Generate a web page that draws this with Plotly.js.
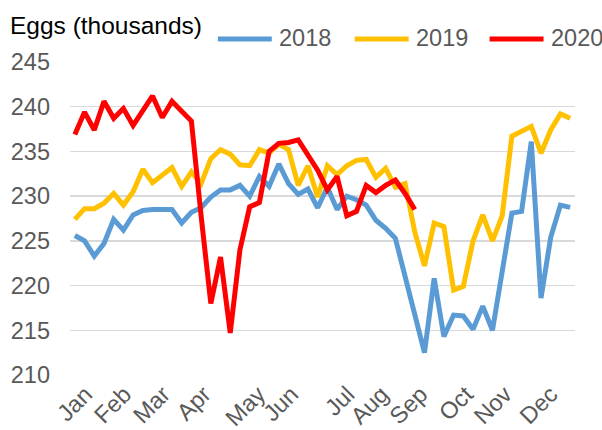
<!DOCTYPE html>
<html>
<head>
<meta charset="utf-8">
<script src="https://cdn.plot.ly/plotly-3.0.1.min.js"></script>
<style>html,body{margin:0;padding:0;background:#fff}#chart{width:602px;height:430px}</style>
</head>
<body>
<div id="chart"></div>
<script>
const weeks = [1,2,3,4,5,6,7,8,9,10,11,12,13,14,15,16,17,18,19,20,21,22,23,24,25,26,
  27,28,29,30,31,32,33,34,35,36,37,38,39,40,41,42,43,44,45,46,47,48,49,50,51,52];

const eggs2018 = [225.6,225.0,223.3,224.7,227.4,226.2,227.9,228.4,228.5,228.5,228.5,227.0,228.2,
  228.7,229.9,230.7,230.7,231.2,230.0,232.2,231.1,233.6,231.4,230.2,230.8,228.7,231.0,228.5,
  230.0,229.6,229.0,227.3,226.4,225.3,221.2,216.9,212.5,220.8,214.3,216.7,216.6,215.1,217.7,
  215.0,221.5,228.1,228.3,236.1,218.6,225.4,229.0,228.75];

const eggs2019 = [227.4,228.6,228.6,229.2,230.3,229.0,230.5,233.0,231.5,232.3,233.2,231.1,232.7,
  231.4,234.2,235.2,234.7,233.5,233.4,235.2,234.8,235.8,235.2,231.2,233.4,229.9,233.4,232.4,
  233.4,234.0,234.1,232.1,233.1,231.0,231.4,226.0,222.2,227.0,226.6,219.5,219.9,225.0,227.9,
  225.0,227.8,236.7,237.3,237.8,234.8,237.4,239.2,238.7];

const eggs2020 = [236.9,239.4,237.4,240.6,238.7,239.8,237.9,239.5,241.2,238.8,240.6,239.5,238.4,
  227.8,218.0,223.2,214.7,224.0,228.8,229.3,235.0,235.9,236.0,236.3,234.6,232.9,230.7,232.2,
  227.8,228.3,231.2,230.4,231.2,231.8,230.3,228.5];

const monthLabels = ['Jan','Feb','Mar','Apr','May','Jun','Jul','Aug','Sep','Oct','Nov','Dec'];
const monthWeeks = [2.1,6.1,10.1,14.3,19.9,23.3,29.1,32.6,36.6,41.3,45.3,50.0];

const seriesNames = ['2018','2019','2020'];
const seriesColors = ['#5B9BD5','#FFC000','#FF0000'];
const seriesData = [eggs2018, eggs2019, eggs2020];

// plot-area geometry (pixels) used only to place the hand-drawn legend
const M = {l: 70, r: 26.5, t: 62, b: 55};
const PW = 602 - M.l - M.r, PH = 430 - M.t - M.b;
const px = p => (p - M.l) / PW;
const py = p => (430 - M.b - p) / PH;
const legendLineX = [218, 355, 490];
const legendLineLen = 54;
const legendY = 38;

const traces = seriesData.map((vals, k) => ({
  type: 'scatter', mode: 'lines', name: seriesNames[k],
  x: weeks.slice(0, vals.length), y: vals,
  line: {color: seriesColors[k], width: 5, shape: 'linear'},
  hoverinfo: 'skip', showlegend: false
}));

const shapes = seriesNames.map((n, k) => ({
  type: 'line', xref: 'paper', yref: 'paper',
  x0: px(legendLineX[k]), x1: px(legendLineX[k] + legendLineLen),
  y0: py(legendY + 1), y1: py(legendY + 1),
  line: {color: seriesColors[k], width: 5}
}));

const annotations = seriesNames.map((n, k) => ({
  xref: 'paper', yref: 'paper', x: px(legendLineX[k] + legendLineLen + 5), y: py(legendY),
  xanchor: 'left', yanchor: 'middle', showarrow: false, text: n,
  font: {size: 23.5, color: '#595959'}
}));

const layout = {
  width: 602, height: 430,
  margin: M,
  paper_bgcolor: '#ffffff', plot_bgcolor: '#ffffff',
  font: {family: 'Liberation Sans, Arial, sans-serif', size: 23.5, color: '#595959'},
  title: {text: 'Eggs (thousands)', font: {size: 24.5, color: '#000000'},
    xref: 'container', yref: 'container', x: 10/602, xanchor: 'left', y: 1 - 25/430, yanchor: 'middle'},
  showlegend: false,
  shapes: shapes,
  annotations: annotations,
  xaxis: {range: [0.5, 52.5], showgrid: false, zeroline: false, showline: false,
    tickmode: 'array', tickvals: monthWeeks, ticktext: monthLabels, tickangle: -45,
    ticks: '', tickfont: {size: 23.5, color: '#595959'}, fixedrange: true},
  yaxis: {range: [210, 245], dtick: 5, tick0: 210, showgrid: true, gridcolor: '#D9D9D9', gridwidth: 1.5,
    zeroline: false, showline: false, ticks: '', ticklabelstandoff: 19,
    tickfont: {size: 23.5, color: '#595959'}, fixedrange: true}
};

Plotly.newPlot('chart', traces, layout, {staticPlot: true, displayModeBar: false});
</script>
</body>
</html>
